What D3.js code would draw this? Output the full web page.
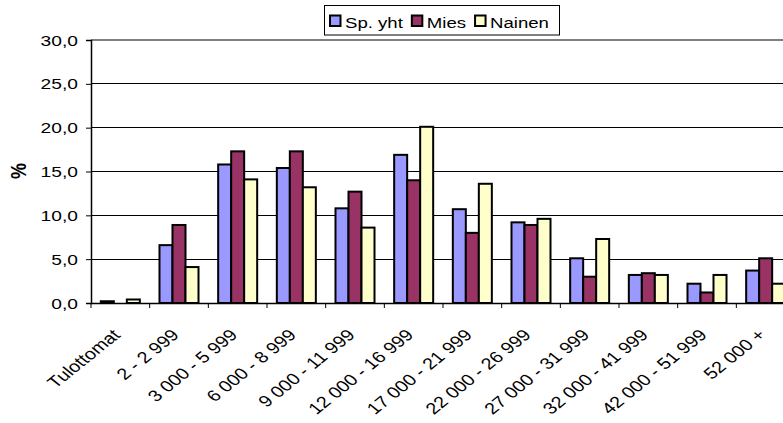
<!DOCTYPE html>
<html>
<head>
<meta charset="utf-8">
<script src="https://cdn.jsdelivr.net/npm/d3@7"></script>
<style>
  html, body { margin: 0; padding: 0; background: #fff; }
  svg { display: block; font-family: "Liberation Sans", Arial, sans-serif; }
</style>
</head>
<body>
<svg id="chart" width="783" height="423"></svg>
<script>
const categories = ["Tulottomat", "2 - 2 999", "3 000 - 5 999", "6 000 - 8 999", "9 000 - 11 999",
  "12 000 - 16 999", "17 000 - 21 999", "22 000 - 26 999", "27 000 - 31 999", "32 000 - 41 999",
  "42 000 - 51 999", "52 000 +"];
const seriesNames = ["Sp. yht", "Mies", "Nainen"];
const spYht  = [0.2, 6.6, 15.8, 15.4, 10.8, 16.9, 10.7, 9.2, 5.1, 3.2, 2.2, 3.7];
const mies   = [0.0, 8.9, 17.3, 17.3, 12.7, 14.0, 8.0, 8.9, 3.0, 3.4, 1.2, 5.1];
const nainen = [0.4, 4.1, 14.1, 13.2, 8.6, 20.1, 13.6, 9.6, 7.3, 3.2, 3.2, 2.2];
const yTicks = [0, 5, 10, 15, 20, 25, 30];
const colors = ["#9999FF", "#993366", "#FFFFCC"];
const yLabel = "%";

const seriesValues = [spYht, mies, nainen];
const svg = d3.select("#chart");
const SX = 1.24; // horizontal text stretch seen in the reference

const plot = { left: 91, right: 795, top: 40, bottom: 303 };

const x0 = d3.scaleBand().domain(categories).range([plot.left, plot.right])
  .paddingInner(0.335).paddingOuter(0.1675);
const x1 = d3.scaleBand().domain(seriesNames).range([0, x0.bandwidth()]);
const y = d3.scaleLinear().domain([0, 30]).range([plot.bottom, plot.top]);
const fmt = v => d3.format(".1f")(v).replace(".", ",");

// gridlines
svg.append("g").selectAll("line").data(yTicks.filter(t => t > 0)).join("line")
  .attr("x1", plot.left).attr("x2", plot.right)
  .attr("y1", d => y(d)).attr("y2", d => y(d))
  .attr("stroke", "#000").attr("stroke-width", 1).attr("shape-rendering", "crispEdges");
// plot-area top border
svg.append("line").attr("x1", plot.left).attr("x2", plot.right)
  .attr("y1", y(30)).attr("y2", y(30)).attr("stroke", "#808080").attr("stroke-width", 2);

// bars
const groups = svg.append("g").selectAll("g").data(categories).join("g")
  .attr("transform", d => `translate(${x0(d)},0)`);
groups.selectAll("rect").data((c, i) => seriesNames.map((s, j) => ({ s, j, v: seriesValues[j][i] })))
  .join("rect")
  .attr("x", d => x1(d.s))
  .attr("width", x1.bandwidth())
  .attr("y", d => y(d.v))
  .attr("height", d => y(0) - y(d.v))
  .attr("fill", d => colors[d.j])
  .attr("stroke", "#000").attr("stroke-width", 2);

// y axis
const yAxis = svg.append("g").attr("transform", `translate(${plot.left},0)`)
  .call(d3.axisLeft(y).tickValues(yTicks).tickSize(5).tickFormat(""));
yAxis.select(".domain").attr("stroke", "#000").attr("stroke-width", 1.5);
yAxis.selectAll(".tick line").attr("stroke", "#000");
svg.append("g").selectAll("text").data(yTicks).join("text")
  .attr("transform", d => `translate(78,${y(d)}) scale(${SX},1)`)
  .attr("dy", "0.36em").attr("text-anchor", "end")
  .attr("font-size", 15.5).attr("fill", "#000").text(d => fmt(d));

// x axis
const xAxis = svg.append("g").attr("transform", `translate(0,${plot.bottom})`)
  .call(d3.axisBottom(x0).tickSize(0).tickFormat(""));
xAxis.select(".domain").attr("stroke", "#000").attr("stroke-width", 1.5);
const step = x0.step();
svg.append("g").selectAll("line").data(d3.range(categories.length + 1)).join("line")
  .attr("x1", i => plot.left + i * step).attr("x2", i => plot.left + i * step)
  .attr("y1", plot.bottom).attr("y2", plot.bottom + 5)
  .attr("stroke", "#000").attr("stroke-width", 1);

svg.append("g").selectAll("text").data(categories).join("text")
  .attr("x", 0).attr("y", 0)
  .attr("transform", d => `translate(${x0(d) + x0.bandwidth() / 2 + 1},336) scale(${SX},1) rotate(-45)`)
  .attr("text-anchor", "end").attr("font-size", 16).attr("fill", "#000").text(d => d);

// y label
svg.append("text").attr("transform", `translate(26,171) scale(${SX},1) rotate(-90)`)
  .attr("text-anchor", "middle").attr("font-weight", "bold").attr("font-size", 18)
  .text(yLabel);

// legend
const lg = svg.append("g");
lg.append("rect").attr("x", 324.5).attr("y", 5.5).attr("width", 235).attr("height", 29.5)
  .attr("fill", "#fff").attr("stroke", "#000").attr("stroke-width", 1);
let lx = 330;
seriesNames.forEach((s, j) => {
  lg.append("rect").attr("x", lx).attr("y", 15.5).attr("width", 10.5).attr("height", 10.5)
    .attr("fill", colors[j]).attr("stroke", "#000").attr("stroke-width", 2);
  const t = lg.append("text").attr("transform", `translate(${lx + 15},28) scale(${SX},1)`)
    .attr("font-size", 15).attr("fill", "#000").text(s);
  lx += 15 + t.node().getComputedTextLength() * SX + 9;
});
</script>
</body>
</html>
